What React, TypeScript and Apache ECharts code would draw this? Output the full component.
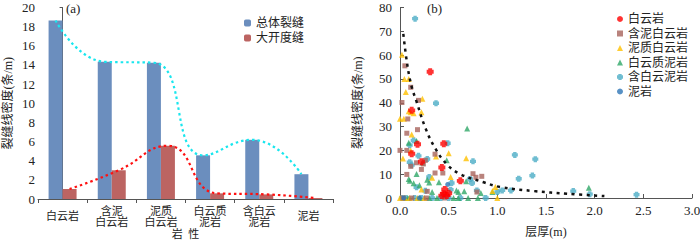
import React, { useEffect, useRef } from 'react';
import * as echarts from 'echarts';

// ---------- (a) bar chart data ----------
const lithology = ['白云岩', '含泥\n白云岩', '泥质\n白云岩', '白云质\n泥岩', '含白云\n泥岩', '泥岩'];
const totalFrac = [18.65, 14.33, 14.23, 4.56, 6.18, 2.59];
const largeFrac = [1.04, 3.0, 5.56, 0.59, 0.48, 0.1];

// ---------- (b) scatter data: [layer thickness (m), density (条/m)] ----------
const dolomite = [
  [0.31, 53], [0.12, 36.8], [0.18, 22.6], [0.12, 18.6], [0.22, 15.2], [0.45, 22.8], [0.43, 12.8],
  [0.62, 7.2], [0.46, 3.6], [0.45, 1.8], [0.48, 1.1], [0.43, 1.0], [0.5, 2.0],
];
const argDolomite = [
  [0.05, 55.5], [0.11, 46.5], [0.02, 40.1], [0.19, 41], [0.08, 33.2], [0.07, 27.2], [0.18, 28.7],
  [0.0, 20], [0.07, 20], [0.11, 13.3], [0.17, 14.8], [0.24, 14.3], [0.22, 12], [0.36, 18.4],
  [0.36, 10.5], [0.44, 10.5], [0.07, 9.9], [0.28, 2.8], [0.75, 10.2], [0.78, 8.7], [0.84, 9.1],
  [0.79, 2.5], [0.26, 15.8], [0.03, 0], [0.12, 0], [0.27, 0], [0.46, 0],
];
const muddyDolomite = [
  [0.02, 60.2], [0.045, 50], [0.09, 50], [0.06, 44.5], [0.0, 33.3], [0.04, 33.3], [0.09, 36.4],
  [0.11, 36], [0.14, 35.6], [0.23, 41.7], [0.22, 36], [0.12, 26.7], [0.11, 20], [0.03, 16.6],
  [0.37, 17.4], [0.5, 18.8], [0.68, 16.7], [0.33, 8.5], [0.52, 8.8], [0.22, 3.6], [0.98, 4.6],
  [0.95, 2.9], [0.0, 0], [0.05, 0], [0.1, 0], [0.18, 0], [0.25, 0], [1.0, 0],
];
const dolomiticMudstone = [
  [0.69, 29.2], [0.09, 23.2], [0.17, 23.9], [0.23, 14.9], [0.48, 15.9], [0.17, 10.1], [0.09, 8],
  [0.1, 7.2], [0.14, 6.2], [0.2, 5.4], [0.28, 7.7], [0.3, 6.5], [0.33, 2.5], [0.4, 6.6],
  [0.58, 3.2], [0.6, 2.5], [0.66, 2.8], [0.68, 7], [0.83, 2.1], [0.95, 2.5], [1.94, 4.3],
  [0.08, 0], [0.2, 0], [0.3, 0], [0.38, 0], [0.55, 0], [0.6, 0], [0.7, 0], [0.8, 0],
];
const dolBearingMudstone = [
  [0.155, 75.3], [0.37, 39.8], [0.49, 23], [0.14, 24.2], [0.1, 22.2], [0.1, 15], [0.12, 13.8],
  [0.19, 17.7], [0.28, 16.4], [0.3, 8.8], [0.26, 3], [0.17, 4.5], [0.75, 15.4], [0.53, 6.3],
  [0.72, 8], [0.74, 6.3], [0.79, 3.2], [1.05, 3.2], [1.0, 2.5], [1.18, 18.1], [1.22, 8.1],
  [1.36, 9.4], [1.39, 16.3], [1.14, 3.2], [1.78, 2.9], [1.95, 1.6], [2.43, 1.4], [0.88, 0],
  [0.52, 3.5], [0.45, 0.8], [0.02, 0], [0.06, 0], [0.15, 0], [0.22, 0], [0.33, 0], [0.42, 0],
  [0.5, 0], [0.62, 0],
];
const mudstone = [[0.49, 5.7], [0.04, 0], [0.2, 0]];
const trendCurve = [
  [0.034, 68.9], [0.076, 55.7], [0.12, 46.7], [0.17, 40.5], [0.26, 29.5], [0.36, 21], [0.48, 14.2],
  [0.62, 10], [0.86, 6.6], [1.03, 4.6], [1.38, 2.9], [1.72, 1.8], [2.1, 0.8],
];

const latin = 'Times New Roman, Liberation Serif, DejaVu Serif, serif';
const cjk = 'Times New Roman, Liberation Serif, Noto Sans CJK SC, sans-serif';
const plusPath = 'path://M0.22,0H0.78V0.22H1V0.78H0.78V1H0.22V0.78H0V0.22H0.22Z';

const GRID_A = { left: 38, top: 7.5, width: 295, height: 191.5 };
const GRID_B = { left: 400, top: 7.5, width: 292, height: 190.5 };
const BAR_W = 14;

export default function App() {
  const ref = useRef<HTMLDivElement>(null);
  useEffect(() => {
    const chart = echarts.init(ref.current!, null, { renderer: 'svg' });
    const catW = GRID_A.width / lithology.length;
    const off = BAR_W / 2 / catW;
    const axisLine = { lineStyle: { color: '#555', width: 1 } };
    const scatter = (name: string, data: number[][], symbol: string, size: number, color: string) => ({
      type: 'scatter', name, data, symbol, symbolSize: size, xAxisIndex: 2, yAxisIndex: 1,
      itemStyle: { color }, z: 3,
    });
    const tickLabel = { fontFamily: latin, fontSize: 13, color: '#222' };
    const nameStyle = { fontFamily: cjk, fontSize: 12, color: '#222' };
    chart.setOption({
      animation: false,
      textStyle: { fontFamily: latin },
      grid: [
        { ...GRID_A, containLabel: false, outerBoundsMode: 'none' },
        { ...GRID_B, containLabel: false, outerBoundsMode: 'none' },
      ],
      legend: [
        {
          data: ['总体裂缝', '大开度缝'], orient: 'vertical', left: 239, top: 12,
          itemWidth: 7, itemHeight: 7, itemGap: 3,
          textStyle: { fontFamily: cjk, fontSize: 12, color: '#222', lineHeight: 12 },
        },
        {
          data: [
            { name: '白云岩', icon: 'circle' }, '含泥白云岩', '泥质白云岩', '白云质泥岩', '含白云泥岩', '泥岩',
          ],
          orient: 'vertical', left: 612, top: 8, itemWidth: 6, itemHeight: 6, itemGap: 2.5,
          textStyle: { fontFamily: cjk, fontSize: 12, color: '#222', lineHeight: 12 },
        },
      ],
      xAxis: [
        {
          type: 'category', gridIndex: 0, data: lithology,
          axisLine, axisTick: { show: true, length: 4, lineStyle: { color: '#555' } },
          axisLabel: {
            interval: 0, fontFamily: cjk, fontSize: 11, color: '#222', lineHeight: 11,
            verticalAlign: 'middle', margin: 17,
          },
          name: '岩  性', nameLocation: 'middle', nameGap: 29, nameMoveOverlap: false,
          nameTextStyle: { fontFamily: cjk, fontSize: 11, color: '#222', lineHeight: 11 },
        },
        { type: 'value', gridIndex: 0, min: -0.5, max: 5.5, show: false },
        {
          type: 'value', gridIndex: 1, min: 0, max: 3, interval: 0.5,
          axisLine, splitLine: { show: false },
          axisTick: { show: true, inside: true, length: 4, lineStyle: { color: '#555' } },
          axisLabel: { ...tickLabel, margin: 6, formatter: (v: number) => v.toFixed(1) },
          name: '层厚(m)', nameLocation: 'middle', nameGap: 27.5, nameMoveOverlap: false,
          nameTextStyle: nameStyle,
        },
      ],
      yAxis: [
        {
          type: 'value', gridIndex: 0, min: 0, max: 20, interval: 2,
          axisLine: { show: true, ...axisLine }, splitLine: { show: false },
          axisTick: { show: true, length: 3, lineStyle: { color: '#555' } },
          axisLabel: { ...tickLabel, margin: 3 },
          name: '裂缝线密度(条/m)', nameLocation: 'middle', nameGap: 24, nameRotate: 90,
          nameMoveOverlap: false, nameTextStyle: nameStyle,
        },
        {
          type: 'value', gridIndex: 1, min: 0, max: 80, interval: 10,
          axisLine: { show: true, ...axisLine }, splitLine: { show: false },
          axisTick: { show: true, inside: true, length: 4, lineStyle: { color: '#555' } },
          axisLabel: { ...tickLabel, margin: 8 },
          name: '裂缝线密度(条/m)', nameLocation: 'middle', nameGap: 36, nameRotate: 90,
          nameMoveOverlap: false, nameTextStyle: nameStyle,
        },
      ],
      graphic: [
        { type: 'text', left: 66, top: 2, style: { text: '(a)', fontFamily: latin, fontSize: 13, fill: '#222' } },
        { type: 'text', left: 427, top: 2, style: { text: '(b)', fontFamily: latin, fontSize: 13, fill: '#222' } },
      ],
      series: [
        {
          type: 'bar', name: '总体裂缝', data: totalFrac, xAxisIndex: 0, yAxisIndex: 0,
          barWidth: BAR_W, barGap: '0%', itemStyle: { color: '#6B8EBE' },
        },
        {
          type: 'bar', name: '大开度缝', data: largeFrac, xAxisIndex: 0, yAxisIndex: 0,
          barWidth: BAR_W, barGap: '0%', itemStyle: { color: '#BC6462' },
        },
        {
          type: 'line', name: 'totalTrend', xAxisIndex: 1, yAxisIndex: 0, smooth: 0.5, symbol: 'none',
          data: totalFrac.map((v, i) => [i - off, v]), z: 4,
          lineStyle: { color: '#19E6EE', width: 2.2, type: [2.5, 3] },
        },
        {
          type: 'line', name: 'largeTrend', xAxisIndex: 1, yAxisIndex: 0, smooth: 0.5, symbol: 'none',
          data: largeFrac.map((v, i) => [i + off, v]), z: 4,
          lineStyle: { color: '#FF1010', width: 2.2, type: [2.5, 3] },
        },
        scatter('含白云泥岩', dolBearingMudstone, plusPath, 6, '#4BACC6'),
        scatter('白云质泥岩', dolomiticMudstone, 'triangle', 6, '#2FA768'),
        scatter('泥质白云岩', muddyDolomite, 'triangle', 6, '#FFC000'),
        scatter('含泥白云岩', argDolomite, 'rect', 5, '#A8645C'),
        scatter('泥岩', mudstone, 'circle', 5, '#2E75B6'),
        scatter('白云岩', dolomite, plusPath, 7, '#FF0000'),
        {
          type: 'line', name: 'trendB', xAxisIndex: 2, yAxisIndex: 1, smooth: 0.4, symbol: 'none',
          data: trendCurve, z: 5,
          lineStyle: { color: '#111', width: 2.5, type: [3, 4.5] },
        },
      ],
    });
    return () => chart.dispose();
  }, []);
  return (
    <div
      ref={ref}
      style={{ position: 'fixed', left: 0, top: 0, width: 700, height: 240, background: '#fff' }}
    />
  );
}
